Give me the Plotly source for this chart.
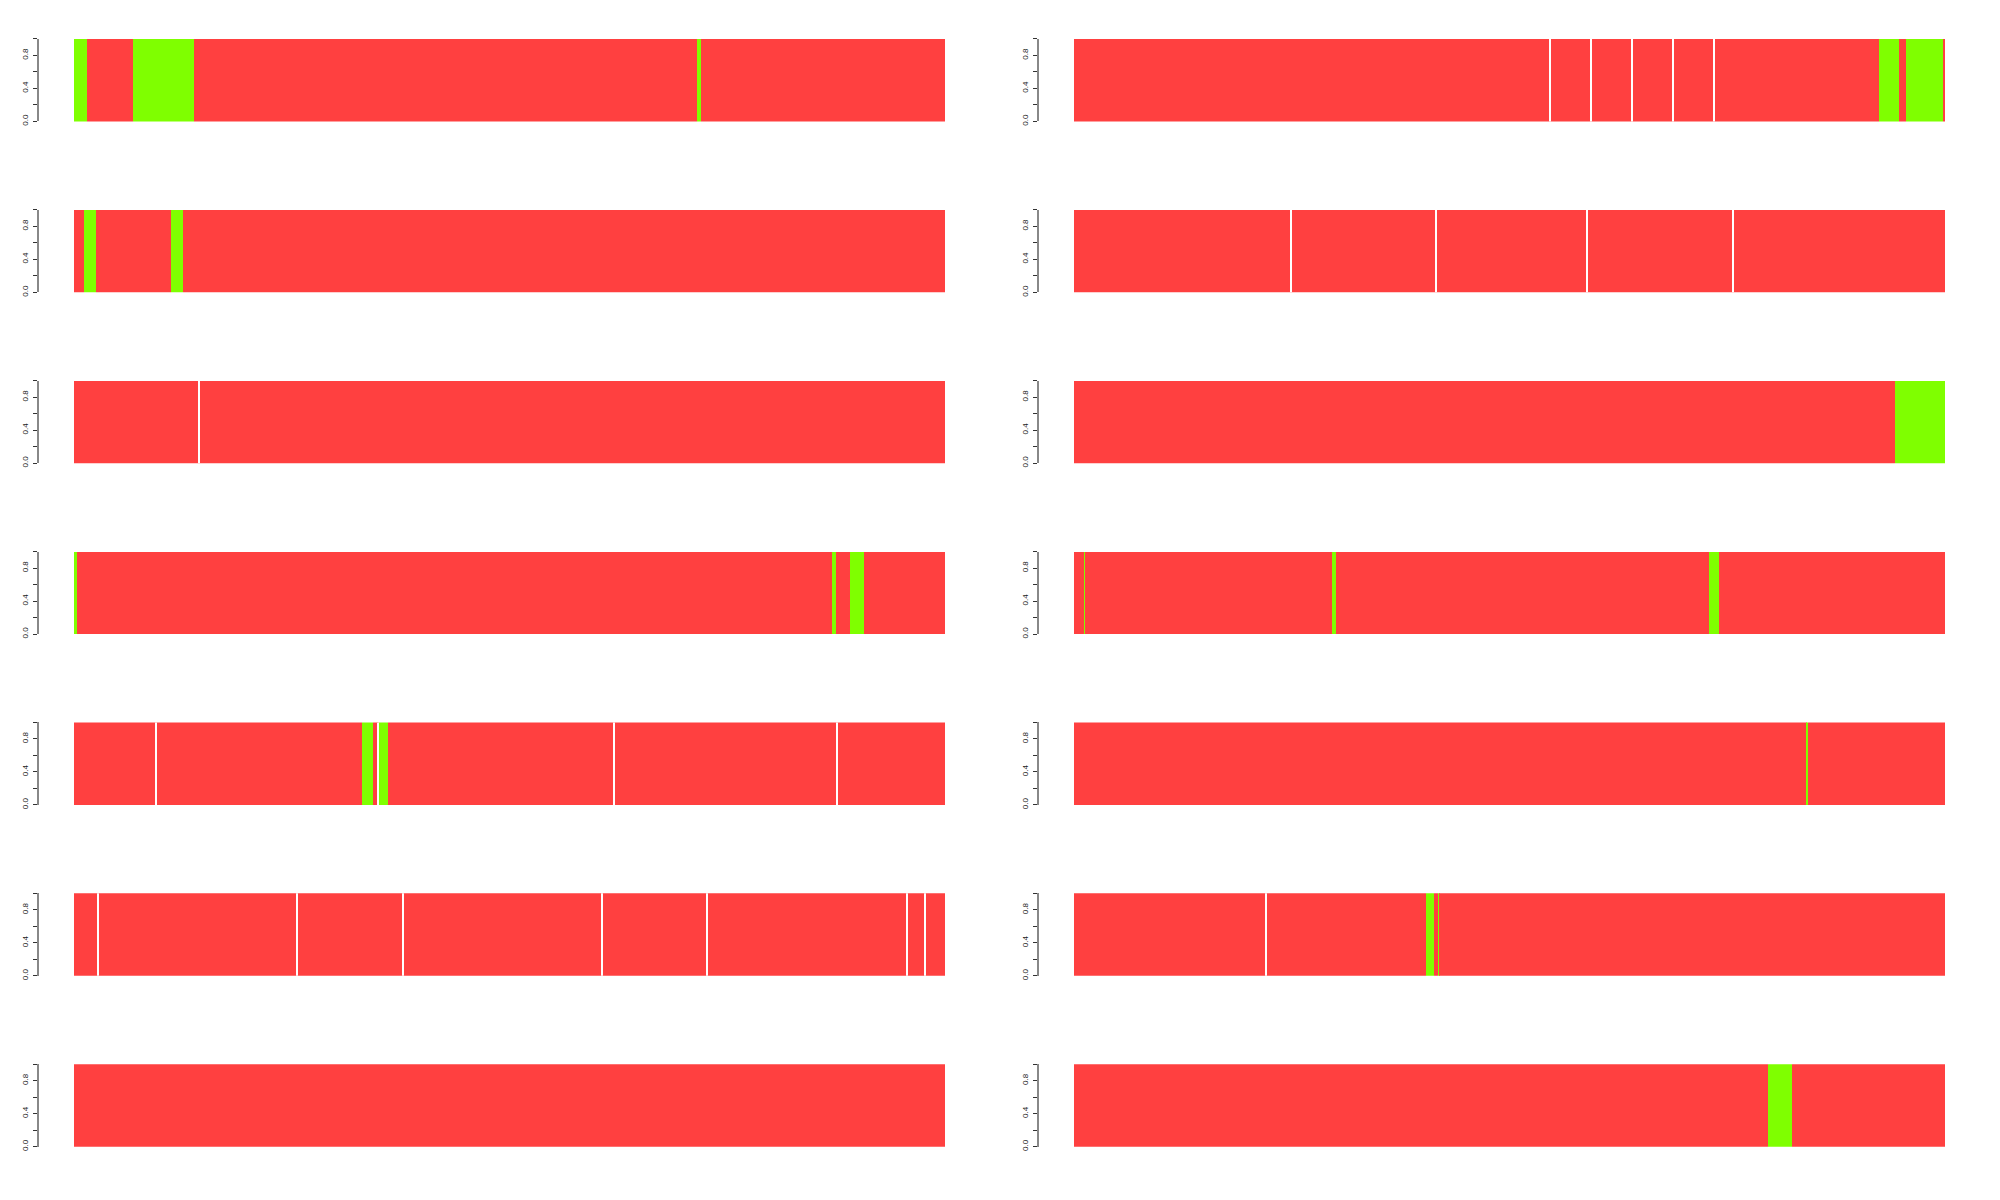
import plotly.graph_objects as go

RED = "#FF4040"
GREEN = "#7FFF00"
COLORS = {"R": RED, "G": GREEN}

# ---- data: segment edges (position along track, 0-100), segment states, white separators ----
edges_L1 = [0, 1.5, 6.8, 13.8, 71.5, 72.0, 100]
state_L1 = ["G", "R", "G", "R", "G", "R"]
gaps_L1 = []

edges_L2 = [0, 1.15, 2.5, 11.1, 12.5, 100]
state_L2 = ["R", "G", "R", "G", "R"]
gaps_L2 = []

edges_L3 = [0, 100]
state_L3 = ["R"]
gaps_L3 = [14.35]

edges_L4 = [0, 0.35, 87.0, 87.5, 89.1, 90.7, 100]
state_L4 = ["G", "R", "G", "R", "G", "R"]
gaps_L4 = []

edges_L5 = [0, 33.07, 34.3, 34.9, 35.0, 36.1, 100]
state_L5 = ["R", "G", "R", "R", "G", "R"]
gaps_L5 = [9.37, 34.95, 61.97, 87.57]

edges_L6 = [0, 100]
state_L6 = ["R"]
gaps_L6 = [2.78, 25.6, 37.8, 60.6, 72.7, 95.6, 97.7]

edges_L7 = [0, 100]
state_L7 = ["R"]
gaps_L7 = []

edges_R1 = [0, 92.4, 94.7, 95.5, 99.8, 100]
state_R1 = ["R", "G", "R", "G", "R"]
gaps_R1 = [54.7, 59.4, 64.1, 68.8, 73.5]

edges_R2 = [0, 100]
state_R2 = ["R"]
gaps_R2 = [24.9, 41.6, 58.9, 75.7]

edges_R3 = [0, 94.3, 100]
state_R3 = ["R", "G"]
gaps_R3 = []

edges_R4 = [0, 1.15, 1.3, 29.6, 30.1, 72.9, 74.0, 100]
state_R4 = ["R", "G", "R", "G", "R", "G", "R"]
gaps_R4 = []

edges_R5 = [0, 84.15, 84.3, 100]
state_R5 = ["R", "G", "R"]
gaps_R5 = []

edges_R6 = [0, 40.4, 41.3, 41.8, 41.95, 100]
state_R6 = ["R", "G", "R", "G", "R"]
gaps_R6 = [22.1]

edges_R7 = [0, 79.7, 82.4, 100]
state_R7 = ["R", "G", "R"]
gaps_R7 = []

y_ticks = [0, 0.2, 0.4, 0.6, 0.8, 1.0]
y_tick_labels = ["0.0", "", "0.4", "", "0.8", ""]

panels = [
    (0, 0, edges_L1, state_L1, gaps_L1), (1, 0, edges_L2, state_L2, gaps_L2),
    (2, 0, edges_L3, state_L3, gaps_L3), (3, 0, edges_L4, state_L4, gaps_L4),
    (4, 0, edges_L5, state_L5, gaps_L5), (5, 0, edges_L6, state_L6, gaps_L6),
    (6, 0, edges_L7, state_L7, gaps_L7),
    (0, 1, edges_R1, state_R1, gaps_R1), (1, 1, edges_R2, state_R2, gaps_R2),
    (2, 1, edges_R3, state_R3, gaps_R3), (3, 1, edges_R4, state_R4, gaps_R4),
    (4, 1, edges_R5, state_R5, gaps_R5), (5, 1, edges_R6, state_R6, gaps_R6),
    (6, 1, edges_R7, state_R7, gaps_R7),
]

# ---- layout geometry (pixels of the 2000x1200 page) ----
W, H = 2000, 1200
ROW_TOP0, ROW_STEP, ROW_H = 39.0, 171.45, 82.8
COL_AXIS = [39.0, 1039.0]
COL_END = [945.0, 1945.0]
BAR_START_OFFSET = 35.0  # px between y axis and first bar
PX_PER_UNIT = (COL_END[0] - COL_AXIS[0] - BAR_START_OFFSET) / 100.0
X_MIN = -BAR_START_OFFSET / PX_PER_UNIT

fig = go.Figure()
layout = dict(
    width=W, height=H, autosize=False,
    margin=dict(l=0, r=0, t=0, b=0, pad=0),
    paper_bgcolor="white", plot_bgcolor="white",
    showlegend=False, barmode="overlay", bargap=0,
    font=dict(family="Liberation Sans, Arial, sans-serif"),
)

gap_w = 1.1 / PX_PER_UNIT

for i, (row, col, edges, states, gaps) in enumerate(panels):
    k = i + 1
    xa = "x" if k == 1 else f"x{k}"
    ya = "y" if k == 1 else f"y{k}"
    centers = [(a + b) / 2 for a, b in zip(edges[:-1], edges[1:])]
    widths = [b - a for a, b in zip(edges[:-1], edges[1:])]
    fig.add_trace(go.Bar(
        x=centers, y=[1] * len(centers), width=widths, base=0,
        marker=dict(color=[COLORS[s] for s in states], line=dict(width=0)),
        xaxis=xa, yaxis=ya, hoverinfo="skip",
    ))
    if gaps:
        fig.add_trace(go.Bar(
            x=gaps, y=[1] * len(gaps), width=[gap_w] * len(gaps), base=0,
            marker=dict(color="white", line=dict(width=0)),
            xaxis=xa, yaxis=ya, hoverinfo="skip",
        ))
    top = ROW_TOP0 + ROW_STEP * row
    bottom = top + ROW_H
    xkey = "xaxis" if k == 1 else f"xaxis{k}"
    ykey = "yaxis" if k == 1 else f"yaxis{k}"
    layout[xkey] = dict(
        domain=[COL_AXIS[col] / W, COL_END[col] / W],
        range=[X_MIN, 100], visible=False, fixedrange=True,
        anchor=ya,
    )
    layout[ykey] = dict(
        domain=[1 - bottom / H, 1 - top / H],
        range=[0, 1], anchor=xa,
        showgrid=False, zeroline=False,
        showline=True, linecolor="#888888", linewidth=1.5,
        ticks="outside", ticklen=4, tickwidth=1, tickcolor="#333333",
        tickvals=y_ticks, ticktext=y_tick_labels,
        tickangle=-90, tickfont=dict(size=8, color="#222222"),
        ticklabelstandoff=2,
        fixedrange=True,
    )

fig.update_layout(**layout)
fig.write_html("out.html", config={"displayModeBar": False, "responsive": False})
